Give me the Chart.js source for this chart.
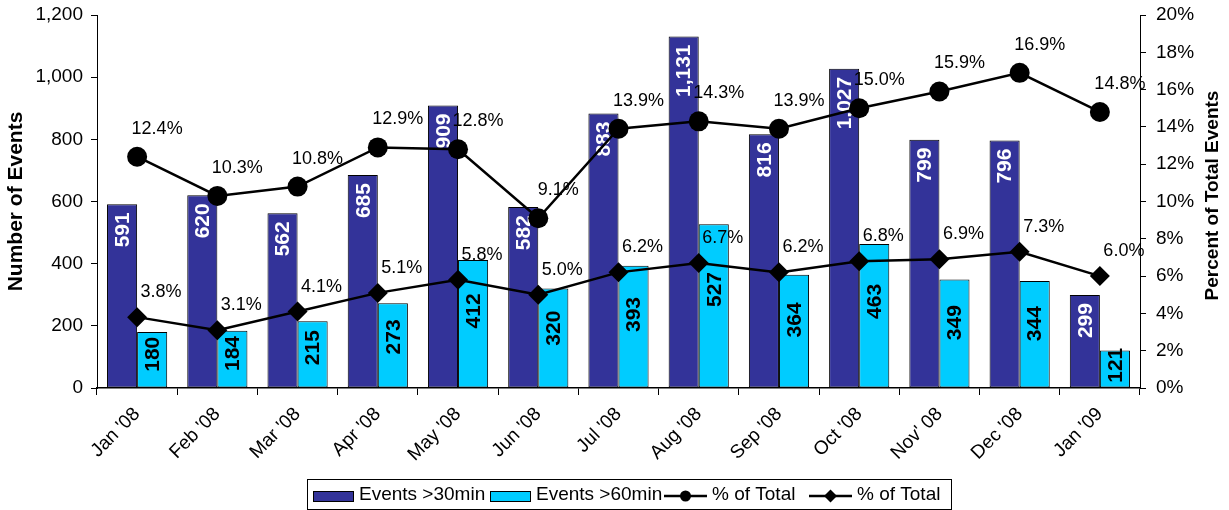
<!DOCTYPE html>
<html><head><meta charset="utf-8">
<script src="https://cdn.jsdelivr.net/npm/chart.js@4.4.1/dist/chart.umd.min.js"></script>
<style>html,body{margin:0;padding:0;background:#fff;}#wrap{width:1229px;height:510px;position:relative;}</style>
</head><body><div id="wrap"><canvas id="c" width="1229" height="510"></canvas></div>
<script>
const categories = ["Jan '08","Feb '08","Mar '08","Apr '08","May '08","Jun '08","Jul '08","Aug '08","Sep '08","Oct '08","Nov' 08","Dec '08","Jan '09"];
const events30 = [591,620,562,685,909,582,883,1131,816,1027,799,796,299];
const events60 = [180,184,215,273,412,320,393,527,364,463,349,344,121];
const pct30 = [12.4,10.3,10.8,12.9,12.8,9.1,13.9,14.3,13.9,15.0,15.9,16.9,14.8];
const pct60 = [3.8,3.1,4.1,5.1,5.8,5.0,6.2,6.7,6.2,6.8,6.9,7.3,6.0];
const seriesNames = ["Events >30min","Events >60min","% of Total","% of Total"];
const leftAxisTitle = "Number of Events";
const rightAxisTitle = "Percent of Total Events";

const FONT = "'Liberation Sans', Arial, Helvetica, sans-serif";
const DARK = '#333399', CYAN = '#00CCFF';

const labelPlugin = {
  id: 'labels',
  afterDatasetDraw(chart, args) {
    const ctx = chart.ctx;
    const meta = args.meta;
    const ds = chart.data.datasets[args.index];
    if (meta.type === 'bar') {
      ctx.save();
      ctx.font = 'bold 21px ' + FONT;
      ctx.textBaseline = 'middle';
      meta.data.forEach((el, i) => {
        const v = ds.data[i];
        const txt = v.toLocaleString('en-US');
        ctx.save();
        if (args.index === 0) {
          ctx.translate(el.x, el.y);
          ctx.rotate(-Math.PI / 2);
          ctx.fillStyle = '#fff';
          ctx.textAlign = 'right';
          ctx.fillText(txt, -8, 1);
        } else {
          const cy = el.y + (el.base - el.y) * 0.4;
          ctx.translate(el.x, cy);
          ctx.rotate(-Math.PI / 2);
          ctx.fillStyle = '#000';
          ctx.textAlign = 'center';
          ctx.fillText(txt, 0, 1);
        }
        ctx.restore();
      });
      ctx.restore();
    }
  },
  afterDatasetsDraw(chart) {
    const ctx = chart.ctx;
    ctx.save();
    ctx.font = '18px ' + FONT;
    ctx.fillStyle = '#000';
    ctx.textAlign = 'center';
    ctx.textBaseline = 'middle';
    chart.data.datasets.forEach((ds, di) => {
      if (ds.type !== 'line') return;
      const meta = chart.getDatasetMeta(di);
      const dx = di === 2 ? 20 : 24, dy = di === 2 ? -28 : -25;
      meta.data.forEach((el, i) => {
        ctx.fillText(ds.data[i].toFixed(1) + '%', el.x + dx, el.y + dy);
      });
    });
    ctx.restore();
  },
  afterDraw(chart) {
    const ctx = chart.ctx;
    const ca = chart.chartArea;
    // right axis title (reads bottom-to-top)
    ctx.save();
    ctx.font = 'bold 19px ' + FONT;
    ctx.fillStyle = '#000';
    ctx.textAlign = 'center';
    ctx.textBaseline = 'middle';
    ctx.translate(1213, (ca.top + ca.bottom) / 2 - 6);
    ctx.rotate(-Math.PI / 2);
    ctx.fillText(rightAxisTitle, 0, 0);
    ctx.restore();
    // legend
    ctx.save();
    const bx = 307, by = 479, bw = 644, bh = 30;
    ctx.fillStyle = '#fff';
    ctx.fillRect(bx, by, bw, bh);
    ctx.strokeStyle = '#000';
    ctx.lineWidth = 1;
    ctx.strokeRect(bx + 0.5, by + 0.5, bw, bh);
    const cy = by + 17;
    ctx.font = '19px ' + FONT;
    ctx.textBaseline = 'middle';
    ctx.textAlign = 'left';
    const rectItem = (x, color, name) => {
      ctx.fillStyle = color;
      ctx.fillRect(x, cy - 5, 40, 10);
      ctx.strokeStyle = '#000';
      ctx.lineWidth = 1;
      ctx.strokeRect(x + 0.5, cy - 5 + 0.5, 40, 10);
      ctx.fillStyle = '#000';
      ctx.fillText(name, x + 46, cy - 1);
    };
    const lineItem = (x, style, name) => {
      ctx.strokeStyle = '#000';
      ctx.lineWidth = 2.5;
      ctx.beginPath(); ctx.moveTo(x, cy); ctx.lineTo(x + 43, cy); ctx.stroke();
      ctx.fillStyle = '#000';
      const mx = x + 21.5;
      ctx.beginPath();
      if (style === 'circle') { ctx.arc(mx, cy, 5.5, 0, Math.PI * 2); }
      else { ctx.moveTo(mx, cy - 6.5); ctx.lineTo(mx + 6.5, cy); ctx.lineTo(mx, cy + 6.5); ctx.lineTo(mx - 6.5, cy); ctx.closePath(); }
      ctx.fill();
      ctx.fillText(name, x + 48, cy - 1);
    };
    rectItem(313, DARK, seriesNames[0]);
    rectItem(490, CYAN, seriesNames[1]);
    lineItem(664, 'circle', seriesNames[2]);
    lineItem(809, 'diamond', seriesNames[3]);
    ctx.restore();
  }
};

new Chart(document.getElementById('c'), {
  type: 'bar',
  data: {
    labels: categories,
    datasets: [
      { type: 'bar', label: seriesNames[0], data: events30, backgroundColor: DARK, borderColor: '#000', borderWidth: 1, borderSkipped: false, categoryPercentage: 0.75, barPercentage: 1.0, yAxisID: 'y', order: 2 },
      { type: 'bar', label: seriesNames[1], data: events60, backgroundColor: CYAN, borderColor: '#000', borderWidth: 1, borderSkipped: false, categoryPercentage: 0.75, barPercentage: 1.0, yAxisID: 'y', order: 2 },
      { type: 'line', label: seriesNames[2], data: pct30, borderColor: '#000', backgroundColor: '#000', borderWidth: 2.5, pointStyle: 'circle', pointRadius: 10, pointBorderWidth: 0, pointBackgroundColor: '#000', tension: 0, yAxisID: 'y1', order: 0 },
      { type: 'line', label: seriesNames[3], data: pct60, borderColor: '#000', backgroundColor: '#000', borderWidth: 2.5, pointStyle: 'rectRot', pointRadius: 10, pointBorderWidth: 0, pointBackgroundColor: '#000', tension: 0, yAxisID: 'y1', order: 0 }
    ]
  },
  options: {
    responsive: false,
    animation: false,
    devicePixelRatio: 1,
    layout: { padding: { top: 15, right: 0, bottom: 40, left: 0 } },
    plugins: { legend: { display: false }, tooltip: { enabled: false } },
    scales: {
      x: {
        offset: true,
        grid: { offset: true, drawOnChartArea: false, drawTicks: true, tickLength: 7, color: '#000', lineWidth: 1 },
        border: { display: true, color: '#000', width: 1.5 },
        ticks: { minRotation: 45, maxRotation: 45, autoSkip: false, color: '#000', font: { family: FONT, size: 19 }, padding: 8 },
        afterFit(s) { s.height = 82; s.paddingLeft = 0; s.paddingRight = 0; }
      },
      y: {
        position: 'left', min: 0, max: 1200,
        grid: { drawOnChartArea: false, drawTicks: true, tickLength: 6, color: '#000' },
        border: { display: true, color: '#000', width: 1 },
        ticks: { stepSize: 200, color: '#000', font: { family: FONT, size: 19 }, padding: 8, callback: v => v.toLocaleString('en-US') },
        title: { display: true, text: leftAxisTitle, color: '#000', font: { family: FONT, size: 21, weight: 'bold' }, padding: { top: 4, bottom: 4 } },
        afterFit(s) { s.width = 97; s.paddingTop = 0; s.paddingBottom = 0; }
      },
      y1: {
        position: 'right', min: 0, max: 20,
        grid: { drawOnChartArea: false, drawTicks: true, tickLength: 6, color: '#000' },
        border: { display: true, color: '#000', width: 1 },
        ticks: { stepSize: 2, color: '#000', font: { family: FONT, size: 19 }, padding: 10, callback: v => v + '%' },
        afterFit(s) { s.width = 89; s.paddingTop = 0; s.paddingBottom = 0; }
      }
    }
  },
  plugins: [labelPlugin]
});
</script>
</body></html>
